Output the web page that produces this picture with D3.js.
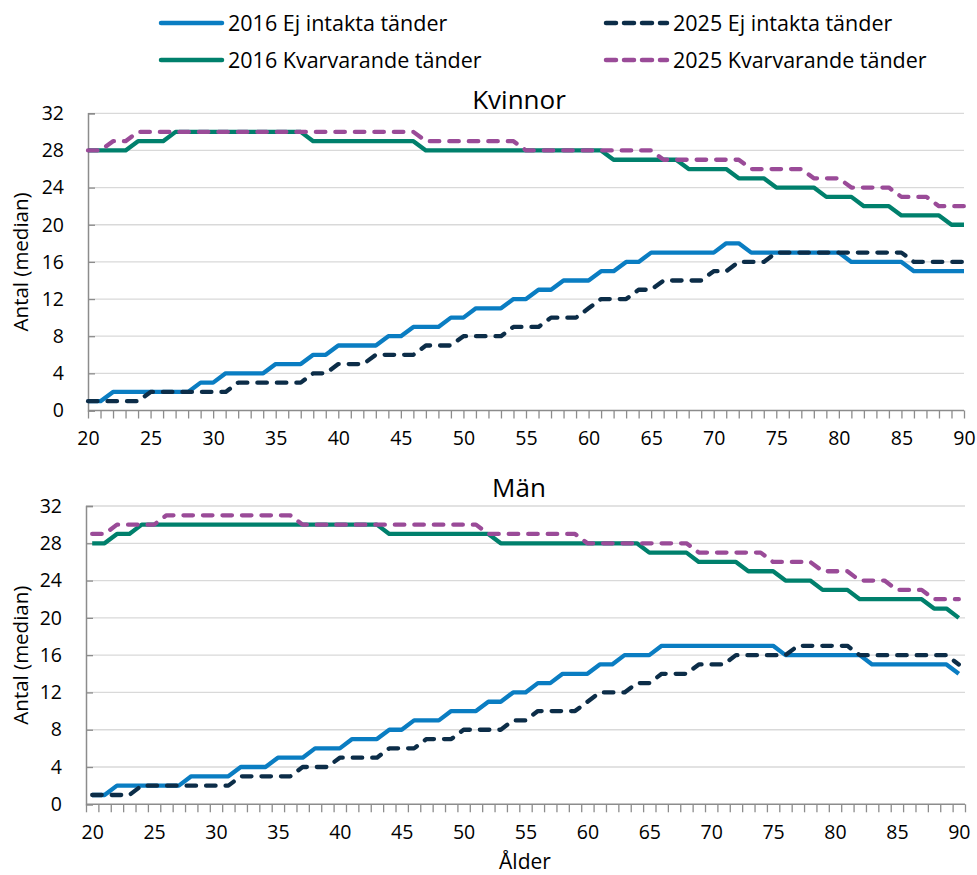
<!DOCTYPE html>
<html><head><meta charset="utf-8">
<script src="https://cdn.jsdelivr.net/npm/d3@7/dist/d3.min.js"></script>
<style>
body{margin:0;background:#fff}
svg text{font-family:"Open Sans","Noto Sans",sans-serif;fill:#000}
</style>
</head><body>
<svg id="c" width="977" height="875"></svg>
<script>
const ages = [20,21,22,23,24,25,26,27,28,29,30,31,32,33,34,35,36,37,38,39,40,41,42,43,44,45,46,47,48,49,50,51,52,53,54,55,56,57,58,59,60,61,62,63,64,65,66,67,68,69,70,71,72,73,74,75,76,77,78,79,80,81,82,83,84,85,86,87,88,89,90];
const xTickLabels = [20,25,30,35,40,45,50,55,60,65,70,75,80,85,90];
const yTickLabels = [0,4,8,12,16,20,24,28,32];
const seriesNames = ["2016 Ej intakta tänder","2025 Ej intakta tänder","2016 Kvarvarande tänder","2025 Kvarvarande tänder"];
const panelTitles = ["Kvinnor","Män"];

// Kvinnor
const kv2016Ej = [1,1,2,2,2,2,2,2,2,3, 3,4,4,4,4,5,5,5,6,6, 7,7,7,7,8,8,9,9,9,10, 10,11,11,11,12,12,13,13,14,14, 14,15,15,16,16,17,17,17,17,17, 17,18,18,17,17,17,17,17,17,17, 17,16,16,16,16,16,15,15,15,15, 15];
const kv2025Ej = [1,1,1,1,1,2,2,2,2,2, 2,2,3,3,3,3,3,3,4,4, 5,5,5,6,6,6,6,7,7,7, 8,8,8,8,9,9,9,10,10,10, 11,12,12,12,13,13,14,14,14,14, 15,15,16,16,16,17,17,17,17,17, 17,17,17,17,17,17,16,16,16,16, 16];
const kv2016Kv = [28,28,28,28,29,29,29,30,30,30, 30,30,30,30,30,30,30,30,29,29, 29,29,29,29,29,29,29,28,28,28, 28,28,28,28,28,28,28,28,28,28, 28,28,27,27,27,27,27,27,26,26, 26,26,25,25,25,24,24,24,24,23, 23,23,22,22,22,21,21,21,21,20, 20];
const kv2025Kv = [28,28,29,29,30,30,30,30,30,30, 30,30,30,30,30,30,30,30,30,30, 30,30,30,30,30,30,30,29,29,29, 29,29,29,29,29,28,28,28,28,28, 28,28,28,28,28,28,27,27,27,27, 27,27,27,26,26,26,26,26,25,25, 25,24,24,24,24,23,23,23,22,22, 22];
// Män
const m2016Ej = [1,1,2,2,2,2,2,2,3,3, 3,3,4,4,4,5,5,5,6,6, 6,7,7,7,8,8,9,9,9,10, 10,10,11,11,12,12,13,13,14,14, 14,15,15,16,16,16,17,17,17,17, 17,17,17,17,17,17,16,16,16,16, 16,16,16,15,15,15,15,15,15,15, 14];
const m2025Ej = [1,1,1,1,2,2,2,2,2,2, 2,2,3,3,3,3,3,4,4,4, 5,5,5,5,6,6,6,7,7,7, 8,8,8,8,9,9,10,10,10,10, 11,12,12,12,13,13,14,14,14,15, 15,15,16,16,16,16,16,17,17,17, 17,17,16,16,16,16,16,16,16,16, 15];
const m2016Kv = [28,28,29,29,30,30,30,30,30,30, 30,30,30,30,30,30,30,30,30,30, 30,30,30,30,29,29,29,29,29,29, 29,29,29,28,28,28,28,28,28,28, 28,28,28,28,28,27,27,27,27,26, 26,26,26,25,25,25,24,24,24,23, 23,23,22,22,22,22,22,22,21,21, 20];
const m2025Kv = [29,29,30,30,30,30,31,31,31,31, 31,31,31,31,31,31,31,30,30,30, 30,30,30,30,30,30,30,30,30,30, 30,30,29,29,29,29,29,29,29,29, 28,28,28,28,28,28,28,28,28,27, 27,27,27,27,27,26,26,26,26,25, 25,25,24,24,24,23,23,23,22,22, 22];

const colors = ["#0a7dc2","#0c2d48","#00806c","#9a4b98"];
const dashed = [false,true,false,true];

const svg = d3.select("#c");
const gridCol = "#d9d9d9", axisCol = "#8c8c8c";

// legend
const legendPos = [[159,23],[604,23],[159,60],[604,60]];
seriesNames.forEach((n,i)=>{
  const [lx,ly] = legendPos[i];
  svg.append("line").attr("x1",lx+2).attr("x2",lx+63).attr("y1",ly).attr("y2",ly)
    .attr("stroke",colors[i]).attr("stroke-width",4.5).attr("stroke-linecap","round")
    .attr("stroke-dasharray",dashed[i]?"10 8":null);
  svg.append("text").attr("x",lx+69).attr("y",ly).attr("dy","0.35em")
    .attr("font-size",21.5).text(n);
});

function panel(cfg){
  const x = d3.scalePoint().domain(ages).range([cfg.x0,cfg.x1]).padding(cfg.pad);
  const y = d3.scaleLinear().domain([0,32]).range([cfg.y0,cfg.y1]);
  const g = svg.append("g");
  // gridlines
  g.append("g").selectAll("line").data(yTickLabels.filter(v=>v>0)).join("line")
    .attr("x1",cfg.x0).attr("x2",cfg.x1).attr("y1",d=>y(d)).attr("y2",d=>y(d))
    .attr("stroke",gridCol).attr("stroke-width",1.3);
  // y axis labels
  const ya = g.append("g").attr("transform",`translate(${cfg.x0},0)`)
    .call(d3.axisLeft(y).tickValues(yTickLabels).tickSize(0).tickPadding(24));
  ya.select(".domain").remove();
  ya.selectAll("text").attr("font-size",19.5).attr("font-family",null);
  // y inner ticks
  const yt = g.append("g").attr("transform",`translate(${cfg.x0},0)`)
    .call(d3.axisRight(y).tickValues(yTickLabels).tickSize(7).tickFormat(""));
  yt.selectAll("line").attr("stroke",axisCol).attr("stroke-width",1.3);
  yt.select(".domain").attr("stroke",axisCol).attr("stroke-width",1.5);
  // x axis ticks
  let tickScale, tickVals;
  if(cfg.pad===0){ tickScale = x; tickVals = ages; }
  else {
    tickScale = d3.scaleLinear().domain([ages[0]-0.5, ages[ages.length-1]+0.5]).range([cfg.x0,cfg.x1]);
    tickVals = ages.map(a=>a-0.5).concat([ages[ages.length-1]+0.5]);
  }
  const xt = g.append("g").attr("transform",`translate(0,${cfg.y0})`)
    .call(d3.axisBottom(tickScale).tickValues(tickVals).tickSize(8).tickFormat(""));
  xt.selectAll("line").attr("stroke",axisCol).attr("stroke-width",1.3);
  xt.select(".domain").attr("stroke",axisCol).attr("stroke-width",1.5).attr("d",`M${cfg.x0},0H${cfg.x1}`);
  // x labels
  const xa = g.append("g").attr("transform",`translate(0,${cfg.y0})`)
    .call(d3.axisBottom(x).tickValues(xTickLabels).tickSize(0).tickPadding(21));
  xa.select(".domain").remove();
  xa.selectAll("text").attr("font-size",19.5).attr("font-family",null);
  // y title
  g.append("text").attr("transform",`translate(${cfg.ytx},${(cfg.y0+cfg.y1)/2}) rotate(-90)`)
    .attr("text-anchor","middle").attr("dy","0.35em").attr("font-size",20.5).text("Antal (median)");
  // title
  g.append("text").attr("x",cfg.tx).attr("y",cfg.ty).attr("text-anchor","middle").attr("dy","0.35em")
    .attr("font-size",26).text(cfg.title);
  // lines
  const line = d3.line().x((d,i)=>x(ages[i])).y(d=>y(d));
  const order = [0,2,1,3];
  order.forEach(i=>{
    g.append("path").datum(cfg.data[i]).attr("d",line).attr("fill","none")
      .attr("stroke",colors[i]).attr("stroke-width",4.3)
      .attr("stroke-linejoin","round").attr("stroke-linecap",dashed[i]?"round":"butt")
      .attr("stroke-dasharray",dashed[i]?"9.5 10":null);
  });
}

panel({x0:88,x1:964,pad:0,y0:410.5,y1:113.3,title:panelTitles[0],tx:519,ty:100,ytx:21,
  data:[kv2016Ej,kv2025Ej,kv2016Kv,kv2025Kv]});
panel({x0:86,x1:965,pad:0.5,y0:804.3,y1:506,title:panelTitles[1],tx:519,ty:488,ytx:21,
  data:[m2016Ej,m2025Ej,m2016Kv,m2025Kv]});

svg.append("text").attr("x",525).attr("y",862).attr("text-anchor","middle").attr("dy","0.35em")
  .attr("font-size",21).text("Ålder");
</script>
</body></html>
